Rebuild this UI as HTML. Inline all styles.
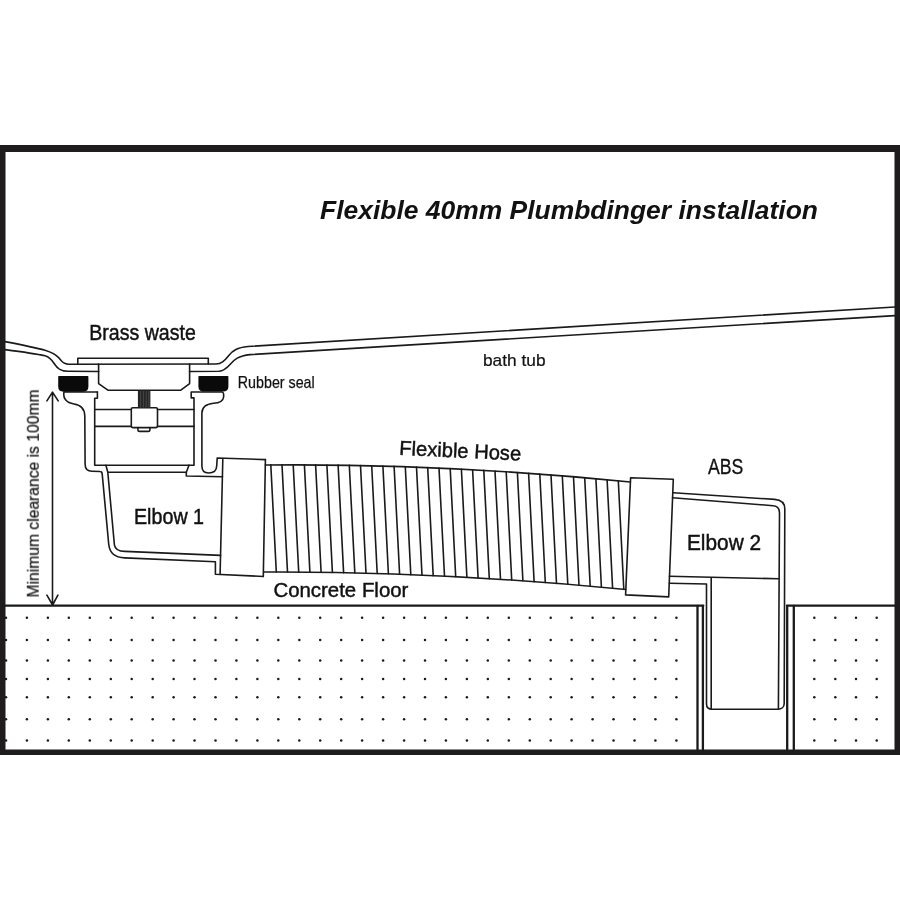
<!DOCTYPE html>
<html><head><meta charset="utf-8"><style>
html,body{margin:0;padding:0;background:#fff;width:900px;height:900px;overflow:hidden}
svg{display:block}
text{font-family:"Liberation Sans",sans-serif;fill:#111;stroke:#111;stroke-width:0.45px}
text.t{stroke-width:0}
</style></head><body>
<svg width="900" height="900" viewBox="0 0 900 900">
<rect width="900" height="900" fill="#fff"/>
<!-- frame -->
<g fill="#1e1c1d">
<rect x="0" y="145" width="900" height="7"/>
<rect x="0" y="749.5" width="900" height="5.5"/>
<rect x="0" y="145" width="5.5" height="610"/>
<rect x="894.5" y="145" width="5.5" height="610"/>
</g>
<!-- dots -->
<g fill="#1a1a1a"><circle cx="6.0" cy="617.8" r="1.25"/><circle cx="26.9" cy="617.8" r="1.25"/><circle cx="47.9" cy="617.8" r="1.25"/><circle cx="68.8" cy="617.8" r="1.25"/><circle cx="89.8" cy="617.8" r="1.25"/><circle cx="110.8" cy="617.8" r="1.25"/><circle cx="131.7" cy="617.8" r="1.25"/><circle cx="152.7" cy="617.8" r="1.25"/><circle cx="173.6" cy="617.8" r="1.25"/><circle cx="194.5" cy="617.8" r="1.25"/><circle cx="215.5" cy="617.8" r="1.25"/><circle cx="236.4" cy="617.8" r="1.25"/><circle cx="257.4" cy="617.8" r="1.25"/><circle cx="278.3" cy="617.8" r="1.25"/><circle cx="299.3" cy="617.8" r="1.25"/><circle cx="320.2" cy="617.8" r="1.25"/><circle cx="341.2" cy="617.8" r="1.25"/><circle cx="362.1" cy="617.8" r="1.25"/><circle cx="383.1" cy="617.8" r="1.25"/><circle cx="404.1" cy="617.8" r="1.25"/><circle cx="425.0" cy="617.8" r="1.25"/><circle cx="445.9" cy="617.8" r="1.25"/><circle cx="466.9" cy="617.8" r="1.25"/><circle cx="487.8" cy="617.8" r="1.25"/><circle cx="508.8" cy="617.8" r="1.25"/><circle cx="529.8" cy="617.8" r="1.25"/><circle cx="550.7" cy="617.8" r="1.25"/><circle cx="571.6" cy="617.8" r="1.25"/><circle cx="592.6" cy="617.8" r="1.25"/><circle cx="613.5" cy="617.8" r="1.25"/><circle cx="634.5" cy="617.8" r="1.25"/><circle cx="655.4" cy="617.8" r="1.25"/><circle cx="676.4" cy="617.8" r="1.25"/><circle cx="814.3" cy="617.8" r="1.25"/><circle cx="835.3" cy="617.8" r="1.25"/><circle cx="856" cy="617.8" r="1.25"/><circle cx="876.7" cy="617.8" r="1.25"/><circle cx="6.0" cy="640" r="1.25"/><circle cx="26.9" cy="640" r="1.25"/><circle cx="47.9" cy="640" r="1.25"/><circle cx="68.8" cy="640" r="1.25"/><circle cx="89.8" cy="640" r="1.25"/><circle cx="110.8" cy="640" r="1.25"/><circle cx="131.7" cy="640" r="1.25"/><circle cx="152.7" cy="640" r="1.25"/><circle cx="173.6" cy="640" r="1.25"/><circle cx="194.5" cy="640" r="1.25"/><circle cx="215.5" cy="640" r="1.25"/><circle cx="236.4" cy="640" r="1.25"/><circle cx="257.4" cy="640" r="1.25"/><circle cx="278.3" cy="640" r="1.25"/><circle cx="299.3" cy="640" r="1.25"/><circle cx="320.2" cy="640" r="1.25"/><circle cx="341.2" cy="640" r="1.25"/><circle cx="362.1" cy="640" r="1.25"/><circle cx="383.1" cy="640" r="1.25"/><circle cx="404.1" cy="640" r="1.25"/><circle cx="425.0" cy="640" r="1.25"/><circle cx="445.9" cy="640" r="1.25"/><circle cx="466.9" cy="640" r="1.25"/><circle cx="487.8" cy="640" r="1.25"/><circle cx="508.8" cy="640" r="1.25"/><circle cx="529.8" cy="640" r="1.25"/><circle cx="550.7" cy="640" r="1.25"/><circle cx="571.6" cy="640" r="1.25"/><circle cx="592.6" cy="640" r="1.25"/><circle cx="613.5" cy="640" r="1.25"/><circle cx="634.5" cy="640" r="1.25"/><circle cx="655.4" cy="640" r="1.25"/><circle cx="676.4" cy="640" r="1.25"/><circle cx="814.3" cy="640" r="1.25"/><circle cx="835.3" cy="640" r="1.25"/><circle cx="856" cy="640" r="1.25"/><circle cx="876.7" cy="640" r="1.25"/><circle cx="6.0" cy="660.4" r="1.25"/><circle cx="26.9" cy="660.4" r="1.25"/><circle cx="47.9" cy="660.4" r="1.25"/><circle cx="68.8" cy="660.4" r="1.25"/><circle cx="89.8" cy="660.4" r="1.25"/><circle cx="110.8" cy="660.4" r="1.25"/><circle cx="131.7" cy="660.4" r="1.25"/><circle cx="152.7" cy="660.4" r="1.25"/><circle cx="173.6" cy="660.4" r="1.25"/><circle cx="194.5" cy="660.4" r="1.25"/><circle cx="215.5" cy="660.4" r="1.25"/><circle cx="236.4" cy="660.4" r="1.25"/><circle cx="257.4" cy="660.4" r="1.25"/><circle cx="278.3" cy="660.4" r="1.25"/><circle cx="299.3" cy="660.4" r="1.25"/><circle cx="320.2" cy="660.4" r="1.25"/><circle cx="341.2" cy="660.4" r="1.25"/><circle cx="362.1" cy="660.4" r="1.25"/><circle cx="383.1" cy="660.4" r="1.25"/><circle cx="404.1" cy="660.4" r="1.25"/><circle cx="425.0" cy="660.4" r="1.25"/><circle cx="445.9" cy="660.4" r="1.25"/><circle cx="466.9" cy="660.4" r="1.25"/><circle cx="487.8" cy="660.4" r="1.25"/><circle cx="508.8" cy="660.4" r="1.25"/><circle cx="529.8" cy="660.4" r="1.25"/><circle cx="550.7" cy="660.4" r="1.25"/><circle cx="571.6" cy="660.4" r="1.25"/><circle cx="592.6" cy="660.4" r="1.25"/><circle cx="613.5" cy="660.4" r="1.25"/><circle cx="634.5" cy="660.4" r="1.25"/><circle cx="655.4" cy="660.4" r="1.25"/><circle cx="676.4" cy="660.4" r="1.25"/><circle cx="814.3" cy="660.4" r="1.25"/><circle cx="835.3" cy="660.4" r="1.25"/><circle cx="856" cy="660.4" r="1.25"/><circle cx="876.7" cy="660.4" r="1.25"/><circle cx="6.0" cy="679" r="1.25"/><circle cx="26.9" cy="679" r="1.25"/><circle cx="47.9" cy="679" r="1.25"/><circle cx="68.8" cy="679" r="1.25"/><circle cx="89.8" cy="679" r="1.25"/><circle cx="110.8" cy="679" r="1.25"/><circle cx="131.7" cy="679" r="1.25"/><circle cx="152.7" cy="679" r="1.25"/><circle cx="173.6" cy="679" r="1.25"/><circle cx="194.5" cy="679" r="1.25"/><circle cx="215.5" cy="679" r="1.25"/><circle cx="236.4" cy="679" r="1.25"/><circle cx="257.4" cy="679" r="1.25"/><circle cx="278.3" cy="679" r="1.25"/><circle cx="299.3" cy="679" r="1.25"/><circle cx="320.2" cy="679" r="1.25"/><circle cx="341.2" cy="679" r="1.25"/><circle cx="362.1" cy="679" r="1.25"/><circle cx="383.1" cy="679" r="1.25"/><circle cx="404.1" cy="679" r="1.25"/><circle cx="425.0" cy="679" r="1.25"/><circle cx="445.9" cy="679" r="1.25"/><circle cx="466.9" cy="679" r="1.25"/><circle cx="487.8" cy="679" r="1.25"/><circle cx="508.8" cy="679" r="1.25"/><circle cx="529.8" cy="679" r="1.25"/><circle cx="550.7" cy="679" r="1.25"/><circle cx="571.6" cy="679" r="1.25"/><circle cx="592.6" cy="679" r="1.25"/><circle cx="613.5" cy="679" r="1.25"/><circle cx="634.5" cy="679" r="1.25"/><circle cx="655.4" cy="679" r="1.25"/><circle cx="676.4" cy="679" r="1.25"/><circle cx="814.3" cy="679" r="1.25"/><circle cx="835.3" cy="679" r="1.25"/><circle cx="856" cy="679" r="1.25"/><circle cx="876.7" cy="679" r="1.25"/><circle cx="6.0" cy="697.3" r="1.25"/><circle cx="26.9" cy="697.3" r="1.25"/><circle cx="47.9" cy="697.3" r="1.25"/><circle cx="68.8" cy="697.3" r="1.25"/><circle cx="89.8" cy="697.3" r="1.25"/><circle cx="110.8" cy="697.3" r="1.25"/><circle cx="131.7" cy="697.3" r="1.25"/><circle cx="152.7" cy="697.3" r="1.25"/><circle cx="173.6" cy="697.3" r="1.25"/><circle cx="194.5" cy="697.3" r="1.25"/><circle cx="215.5" cy="697.3" r="1.25"/><circle cx="236.4" cy="697.3" r="1.25"/><circle cx="257.4" cy="697.3" r="1.25"/><circle cx="278.3" cy="697.3" r="1.25"/><circle cx="299.3" cy="697.3" r="1.25"/><circle cx="320.2" cy="697.3" r="1.25"/><circle cx="341.2" cy="697.3" r="1.25"/><circle cx="362.1" cy="697.3" r="1.25"/><circle cx="383.1" cy="697.3" r="1.25"/><circle cx="404.1" cy="697.3" r="1.25"/><circle cx="425.0" cy="697.3" r="1.25"/><circle cx="445.9" cy="697.3" r="1.25"/><circle cx="466.9" cy="697.3" r="1.25"/><circle cx="487.8" cy="697.3" r="1.25"/><circle cx="508.8" cy="697.3" r="1.25"/><circle cx="529.8" cy="697.3" r="1.25"/><circle cx="550.7" cy="697.3" r="1.25"/><circle cx="571.6" cy="697.3" r="1.25"/><circle cx="592.6" cy="697.3" r="1.25"/><circle cx="613.5" cy="697.3" r="1.25"/><circle cx="634.5" cy="697.3" r="1.25"/><circle cx="655.4" cy="697.3" r="1.25"/><circle cx="676.4" cy="697.3" r="1.25"/><circle cx="814.3" cy="697.3" r="1.25"/><circle cx="835.3" cy="697.3" r="1.25"/><circle cx="856" cy="697.3" r="1.25"/><circle cx="876.7" cy="697.3" r="1.25"/><circle cx="6.0" cy="719.3" r="1.25"/><circle cx="26.9" cy="719.3" r="1.25"/><circle cx="47.9" cy="719.3" r="1.25"/><circle cx="68.8" cy="719.3" r="1.25"/><circle cx="89.8" cy="719.3" r="1.25"/><circle cx="110.8" cy="719.3" r="1.25"/><circle cx="131.7" cy="719.3" r="1.25"/><circle cx="152.7" cy="719.3" r="1.25"/><circle cx="173.6" cy="719.3" r="1.25"/><circle cx="194.5" cy="719.3" r="1.25"/><circle cx="215.5" cy="719.3" r="1.25"/><circle cx="236.4" cy="719.3" r="1.25"/><circle cx="257.4" cy="719.3" r="1.25"/><circle cx="278.3" cy="719.3" r="1.25"/><circle cx="299.3" cy="719.3" r="1.25"/><circle cx="320.2" cy="719.3" r="1.25"/><circle cx="341.2" cy="719.3" r="1.25"/><circle cx="362.1" cy="719.3" r="1.25"/><circle cx="383.1" cy="719.3" r="1.25"/><circle cx="404.1" cy="719.3" r="1.25"/><circle cx="425.0" cy="719.3" r="1.25"/><circle cx="445.9" cy="719.3" r="1.25"/><circle cx="466.9" cy="719.3" r="1.25"/><circle cx="487.8" cy="719.3" r="1.25"/><circle cx="508.8" cy="719.3" r="1.25"/><circle cx="529.8" cy="719.3" r="1.25"/><circle cx="550.7" cy="719.3" r="1.25"/><circle cx="571.6" cy="719.3" r="1.25"/><circle cx="592.6" cy="719.3" r="1.25"/><circle cx="613.5" cy="719.3" r="1.25"/><circle cx="634.5" cy="719.3" r="1.25"/><circle cx="655.4" cy="719.3" r="1.25"/><circle cx="676.4" cy="719.3" r="1.25"/><circle cx="814.3" cy="719.3" r="1.25"/><circle cx="835.3" cy="719.3" r="1.25"/><circle cx="856" cy="719.3" r="1.25"/><circle cx="876.7" cy="719.3" r="1.25"/><circle cx="6.0" cy="740.4" r="1.25"/><circle cx="26.9" cy="740.4" r="1.25"/><circle cx="47.9" cy="740.4" r="1.25"/><circle cx="68.8" cy="740.4" r="1.25"/><circle cx="89.8" cy="740.4" r="1.25"/><circle cx="110.8" cy="740.4" r="1.25"/><circle cx="131.7" cy="740.4" r="1.25"/><circle cx="152.7" cy="740.4" r="1.25"/><circle cx="173.6" cy="740.4" r="1.25"/><circle cx="194.5" cy="740.4" r="1.25"/><circle cx="215.5" cy="740.4" r="1.25"/><circle cx="236.4" cy="740.4" r="1.25"/><circle cx="257.4" cy="740.4" r="1.25"/><circle cx="278.3" cy="740.4" r="1.25"/><circle cx="299.3" cy="740.4" r="1.25"/><circle cx="320.2" cy="740.4" r="1.25"/><circle cx="341.2" cy="740.4" r="1.25"/><circle cx="362.1" cy="740.4" r="1.25"/><circle cx="383.1" cy="740.4" r="1.25"/><circle cx="404.1" cy="740.4" r="1.25"/><circle cx="425.0" cy="740.4" r="1.25"/><circle cx="445.9" cy="740.4" r="1.25"/><circle cx="466.9" cy="740.4" r="1.25"/><circle cx="487.8" cy="740.4" r="1.25"/><circle cx="508.8" cy="740.4" r="1.25"/><circle cx="529.8" cy="740.4" r="1.25"/><circle cx="550.7" cy="740.4" r="1.25"/><circle cx="571.6" cy="740.4" r="1.25"/><circle cx="592.6" cy="740.4" r="1.25"/><circle cx="613.5" cy="740.4" r="1.25"/><circle cx="634.5" cy="740.4" r="1.25"/><circle cx="655.4" cy="740.4" r="1.25"/><circle cx="676.4" cy="740.4" r="1.25"/><circle cx="814.3" cy="740.4" r="1.25"/><circle cx="835.3" cy="740.4" r="1.25"/><circle cx="856" cy="740.4" r="1.25"/><circle cx="876.7" cy="740.4" r="1.25"/></g>
<g fill="none" stroke="#1a1a1a" stroke-linejoin="round" stroke-linecap="round">
<!-- floor -->
<path stroke-width="2.3" d="M5,605.6 H703.3 M786.9,605.6 H895"/>
<path stroke-width="2.3" d="M697.5,605.8 V749.5 M702.9,605.8 V749.5 M787.2,605.8 V749.5 M793.8,605.8 V749.5"/>
<g stroke-width="1.6">
<!-- bath tub -->
<path d="M5,341.6 C20,344.5 35,347.5 45,350.2 C52,352.3 56,354.5 59,358 C61.5,361 63,364.2 69,364.2 L216,364 C222,364 225,360 229,355.2 C233,350.3 237,347.6 248,346.5 L895,307"/>
<path d="M5,349.6 C20,351.5 35,353.5 45,355.8 C50,357.2 52,360 54.5,364 C57,368 60,371.3 68,371.3 L98.6,371.5"/>
<path d="M189.6,371.5 L219,371.2 C224,371 227,368 230.5,364 C234.5,359.5 238,356 250,354.6 L895,315.6"/>
<!-- flange + drain cup -->
<path d="M77.8,364 V358.3 H208.3 V364"/>
<path d="M98.6,364 V383.6 L108.3,390.3 H180.5 L189.6,383.6 V364"/>
<!-- waste body -->
<path d="M97.4,392 H64 C62.8,398 66,402.8 74,404 C81,405 84.7,409 84.8,416 L85.1,464 C85.1,469 87.5,471.3 92,471.3 L100,471.5 C101.5,471.5 102.1,472.5 102.2,474 L108.7,544 C109.5,553 115,557.6 124.8,557.9 L215.4,561.8 V574.2 L263.3,576.5"/>
<path d="M97.4,392 V398.3 H94.7 V465.2 H194 V397.9 H191.2 V392 H222 C223.5,392 223.8,394 223.6,397 C223.2,401 220,403 213.5,403.3 C207,404 202,407 201.9,413 L201.9,466 C201.9,471 204.5,473 208.5,473 C213,473 216.5,471.5 216.7,466 L217.2,458 L265.4,459.6"/>
<!-- elbow 1 inner -->
<path d="M105.9,465.2 L107.8,472.2 H186.3 L189,465.2"/>
<path d="M107.8,472.2 L114.4,544.8 C115.3,550 119,551.4 124.8,551.4 L220.6,555.4"/>
<path d="M186.3,472.2 V476 L222.5,476.8"/>
<!-- crossbar -->
<path d="M94.7,409.5 H131.3 M157.5,409.5 H194 M94.7,426.4 H131.3 M157.5,426.4 H194"/>
<rect x="131.3" y="407.7" width="26.2" height="19.9" rx="1.5"/>
<path d="M137.9,427.6 V430 Q137.9,431.4 139.5,431.4 H148.3 Q149.9,431.4 149.9,430 V427.6"/>
<!-- coupler 1 -->
<path d="M222.8,459.6 L220.1,574.3"/>
<path d="M265.4,459.6 L263.3,576.5"/>
<!-- hose -->
<path d="M265.4,465.0 Q442,463.2 630.4,482.0"/>
<path d="M263.7,572.0 Q437,571.1 625.8,589.5"/>
<path d="M270.8,464.9 L276.3,572.0 M282.0,464.9 L287.5,572.0 M293.2,464.8 L298.7,572.0 M304.4,464.9 L309.9,572.1 M315.6,464.9 L321.1,572.2 M326.9,465.0 L332.4,572.4 M338.1,465.1 L343.6,572.6 M349.3,465.3 L354.8,572.8 M360.5,465.5 L366.0,573.1 M371.7,465.8 L377.2,573.4 M382.9,466.0 L388.4,573.8 M394.1,466.4 L399.6,574.2 M405.3,466.7 L410.8,574.6 M416.5,467.1 L422.0,575.1 M427.7,467.6 L433.2,575.6 M439.0,468.1 L444.5,576.1 M450.2,468.6 L455.7,576.7 M461.4,469.2 L466.9,577.3 M472.6,469.8 L478.1,577.9 M483.8,470.4 L489.3,578.6 M495.0,471.1 L500.5,579.3 M506.2,471.8 L511.7,580.0 M517.4,472.5 L522.9,580.8 M528.6,473.3 L534.1,581.6 M539.8,474.1 L545.3,582.5 M551.0,475.0 L556.5,583.4 M562.3,475.8 L567.8,584.3 M573.5,476.8 L579.0,585.2 M584.7,477.7 L590.2,586.2 M595.9,478.7 L601.4,587.2 M607.1,479.7 L612.6,588.2 M618.3,480.8 L623.8,589.3"/>
<!-- coupler 2 -->
<path d="M630.6,477.8 L673.3,479.3 L668.7,596.9 L625.6,594.9 Z"/>
<!-- ABS / elbow 2 -->
<path d="M673.3,492.7 L774.6,499.4 C781.5,500 784.8,503.5 784.8,509 L784.2,703.5 C784.2,707 781.5,709.2 778,709.2 L712,709.2 C708.5,709.2 706.5,707 706.5,704 V584 L669.4,583.2"/>
<path d="M672.5,497.7 L773.1,505.7 C777.5,506 779.5,509 779.5,513 L778.4,709"/>
<path d="M669.4,576.2 L778.5,578.8"/>
<path d="M711.2,578 V709"/>
<!-- arrow -->
<path d="M52.5,392.5 V604.8 M46.9,400.9 L52.5,392.1 L58.2,400.9 M46.9,595.2 L52.6,605 L57.9,595.2"/>
</g>
</g>
<!-- seals -->
<g fill="#0a0a0a">
<path d="M58.2,376.4 Q58.2,376 58.8,376 H87.8 Q88.4,376 88.4,376.4 V386.5 Q88.4,391.7 83,391.7 H63.5 Q58.2,391.7 58.2,386.5 Z"/>
<path d="M198.4,376.4 Q198.4,376 199,376 H227.8 Q228.4,376 228.4,376.4 V386.5 Q228.4,391.6 223,391.6 H203.7 Q198.4,391.6 198.4,386.5 Z"/>
</g>
<!-- bolt -->
<rect x="137.9" y="390.6" width="12.5" height="17.2" fill="#262626"/>
<path d="M140.6,391 V407.5 M143.4,391 V407.5 M146.2,391 V407.5 M148.8,391 V407.5" stroke="#5a5a5a" stroke-width="0.6"/>
<!-- texts --><g style="will-change:transform">
<text class="t" x="320" y="219" font-size="25.3" font-weight="bold" font-style="italic" textLength="498" lengthAdjust="spacingAndGlyphs">Flexible 40mm Plumbdinger installation</text>
<text x="89.2" y="340" font-size="21.3" textLength="106.6" lengthAdjust="spacingAndGlyphs">Brass waste</text>
<text style="stroke-width:0.25px" x="237.8" y="387.8" font-size="15.9" textLength="76.9" lengthAdjust="spacingAndGlyphs">Rubber seal</text>
<text style="stroke-width:0.2px" x="483" y="365.8" font-size="15.9" textLength="62.5" lengthAdjust="spacingAndGlyphs">bath tub</text>
<text style="stroke-width:0.3px" x="708" y="474.4" font-size="21.3" textLength="35.4" lengthAdjust="spacingAndGlyphs">ABS</text>
<text x="134" y="523.8" font-size="21.4" textLength="70" lengthAdjust="spacingAndGlyphs">Elbow 1</text>
<text x="687" y="549.8" font-size="21.4" textLength="74" lengthAdjust="spacingAndGlyphs">Elbow 2</text>
<text x="273.4" y="597" font-size="20.5" textLength="135" lengthAdjust="spacingAndGlyphs">Concrete Floor</text>
<text transform="translate(399,454.8) rotate(2.7)" x="0" y="0" font-size="20.3" textLength="122" lengthAdjust="spacingAndGlyphs">Flexible Hose</text>
<text style="stroke-width:0.2px" transform="translate(38.8,597.5) rotate(-90)" x="0" y="0" font-size="17" textLength="208" lengthAdjust="spacingAndGlyphs">Minimum clearance is 100mm</text>
</g>
</svg>
</body></html>
